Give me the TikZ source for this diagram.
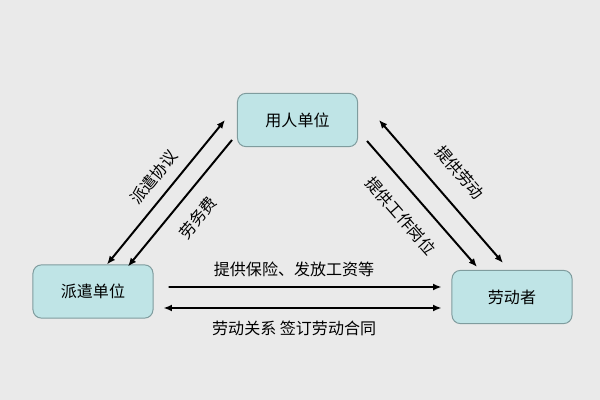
\documentclass[tikz,border=0pt]{standalone}
\usepackage{fontspec}
\newfontfamily\cjk{Noto Sans CJK SC}
\usetikzlibrary{arrows.meta}

\definecolor{bgGrey}{HTML}{EAEAEA}
\definecolor{boxFill}{HTML}{BFE4E6}
\definecolor{boxLine}{HTML}{7F9C9E}

\begin{document}
\begin{tikzpicture}[
    x=0.025cm, y=0.025cm,
    font=\cjk\fontsize{11.4pt}{13pt}\selectfont,
    unit/.style={
        draw=boxLine,
        fill=boxFill,
        line width=0.7pt,
        rounded corners=6pt,
        minimum width=3cm,
        minimum height=1.33cm,
        align=center
    },
    one/.style={-{Latex[length=6pt,width=5pt]}, line width=1.4pt},
    both/.style={{Latex[length=6pt,width=5pt]}-{Latex[length=6pt,width=5pt]}, line width=1.4pt},
    back/.style={{Latex[length=6pt,width=5pt]}-, line width=1.4pt},
    lbl/.style={inner sep=0pt}
]

% Background
\fill[bgGrey] (0,0) rectangle (600,400);
\useasboundingbox (0,0) rectangle (600,400);

% Nodes
\node[unit] (yongren) at (297.5,280) {用人单位};
\node[unit] (paiqian) at (93,108.5) {派遣单位};
\node[unit] (laodong) at (512,103) {劳动者};

% Left side
\draw[both] ([shift={(14,0)}]paiqian.north) -- ([shift={(-12,0)}]yongren.west)
    node[lbl, pos=0.52, sloped, above=7.5pt] {派遣协议};
\draw[back] ([shift={(35,-2)}]paiqian.north) -- ([shift={(-5,-20)}]yongren.west)
    node[lbl, pos=0.5, sloped, below=10.5pt] {劳务费};

% Right side
\draw[both] ([shift={(21,0)}]yongren.east) -- ([shift={(-9,7)}]laodong.north)
    node[lbl, pos=0.49, sloped, above=13pt] {提供劳动};
\draw[one] ([shift={(9,-21)}]yongren.east) -- ([shift={(-35,3)}]laodong.north)
    node[lbl, pos=0.47, sloped, below=11pt] {提供工作岗位};

% Bottom
\draw[one] ([shift={(15,4.5)}]paiqian.east) -- ([shift={(-10,10)}]laodong.west)
    node[lbl, pos=0.46, above=6.4pt] {提供保险、发放工资等};
\draw[both] ([shift={(10,-16.5)}]paiqian.east) -- ([shift={(-10,-11)}]laodong.west)
    node[lbl, pos=0.47, below=8.5pt] {劳动关系 签订劳动合同};

\end{tikzpicture}
\end{document}
